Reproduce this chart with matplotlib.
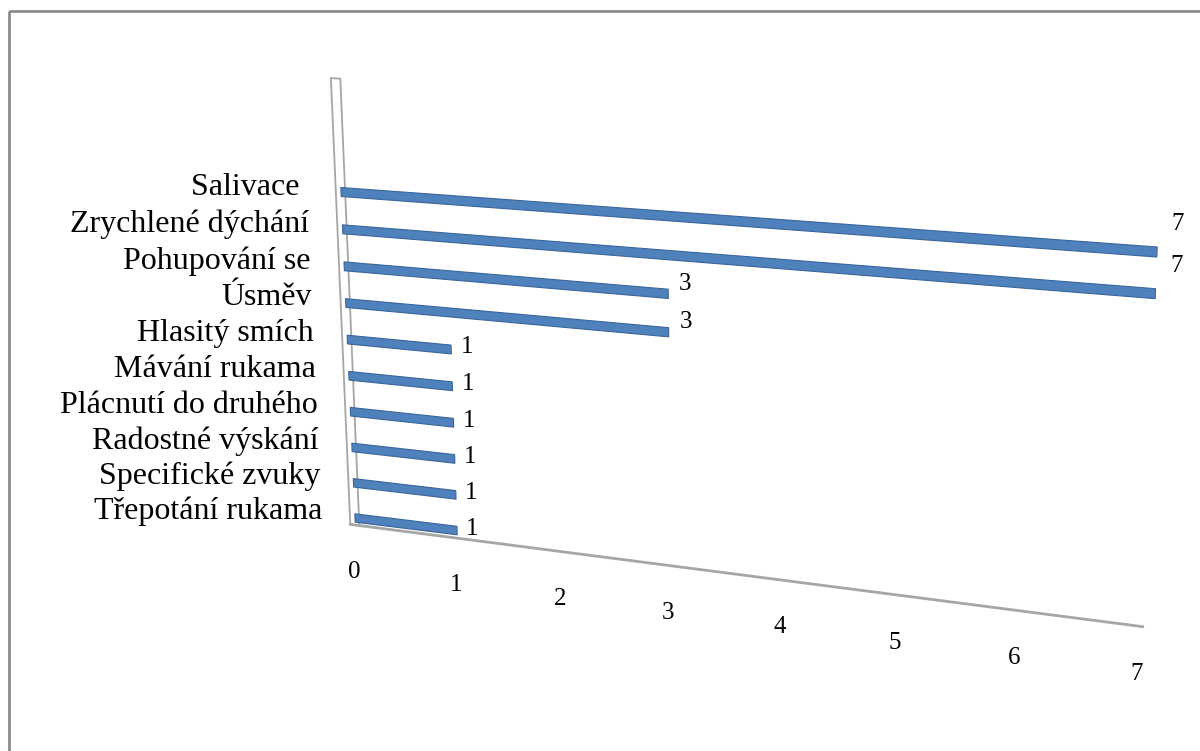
import numpy as np
import matplotlib
matplotlib.use("Agg")
import matplotlib.pyplot as plt
from matplotlib.transforms import Transform, Affine2D
from matplotlib.patches import Rectangle

# ---------------- data ----------------
categories = ["Salivace ", "Zrychlené dýchání", "Pohupování se", "Úsměv",
              "Hlasitý smích", "Mávání rukama", "Plácnutí do druhého",
              "Radostné výskání", "Specifické zvuky", "Třepotání rukama"]
values = [7, 7, 3, 3, 1, 1, 1, 1, 1, 1]
value_ticks = [0, 1, 2, 3, 4, 5, 6, 7]

# ---------------- layout (perspective plane calibration, image pixels) ----------------
W, H_PX = 1200, 751
PLANE_SRC = [(0, 0), (7, 0), (0, 9), (7, 9)]          # (value, row) corners
PLANE_DST = [(341, 192), (1157, 252), (355, 518), (1143, 615)]  # pixel positions

BAR_COLOR = "#4F81BD"
BAR_EDGE = "#3A6599"
AXIS_COLOR = "#A6A6A6"
FONT = "Liberation Serif"


def homography(src, dst):
    A, b = [], []
    for (u, v), (x, y) in zip(src, dst):
        A.append([u, v, 1, 0, 0, 0, -u * x, -v * x]); b.append(x)
        A.append([0, 0, 0, u, v, 1, -u * y, -v * y]); b.append(y)
    h = np.linalg.solve(np.array(A, float), np.array(b, float))
    return np.append(h, 1.0).reshape(3, 3)


class Perspective(Transform):
    input_dims = 2
    output_dims = 2
    is_separable = False
    has_inverse = True

    def __init__(self, M):
        super().__init__()
        self.M = np.asarray(M, float)

    def transform_non_affine(self, values):
        v = np.asarray(values, float).reshape(-1, 2)
        h = np.column_stack([v, np.ones(len(v))]) @ self.M.T
        return h[:, :2] / h[:, 2:3]

    def inverted(self):
        return Perspective(np.linalg.inv(self.M))


fig = plt.figure(figsize=(12, 7.51), dpi=100)
ax = fig.add_axes([0, 0, 1, 1])
ax.set_xlim(0, W)
ax.set_ylim(H_PX, 0)
ax.set_autoscale_on(False)
ax.axis("off")

T = Perspective(homography(PLANE_SRC, PLANE_DST)) + ax.transData
T_lab = Affine2D(np.array([[1, 0, 0.15], [-0.1, 1, 0], [0, 0, 1]])) + T

# outer chart border
ax.add_patch(Rectangle((9, 11), 1210, 760, fill=False, ec="#8C8C8C", lw=2, zorder=0))

# wall and floor
rows = np.arange(len(categories))
ax.add_patch(Rectangle((-0.05, -3.0), 0.09, 12.2, transform=T, fc="white",
                       ec=AXIS_COLOR, lw=1.3, zorder=1))
ax.plot([-0.05, 7], [9.2, 9.3], transform=T, color=AXIS_COLOR, lw=2, zorder=1)

# bars
ax.barh(rows, values, height=0.24, left=0, color=BAR_COLOR, edgecolor=BAR_EDGE,
        linewidth=0.8, transform=T, zorder=3)

# category labels
for r, name in zip(rows, categories):
    ax.text(-0.33, r + 0.14, name, transform=T, ha="right", va="baseline",
            fontsize=23, family=FONT, color="black")

# value ticks
for v in value_ticks:
    ax.text(v - 0.03, 10.55, str(v), transform=T, ha="center", va="center",
            fontsize=18, family=FONT, color="black")

# data labels
for r, v in zip(rows, values):
    ax.text(v, r, str(v), transform=T_lab, ha="center", va="center",
            fontsize=18, family=FONT, color="black")

fig.savefig("out.png", dpi=100)
